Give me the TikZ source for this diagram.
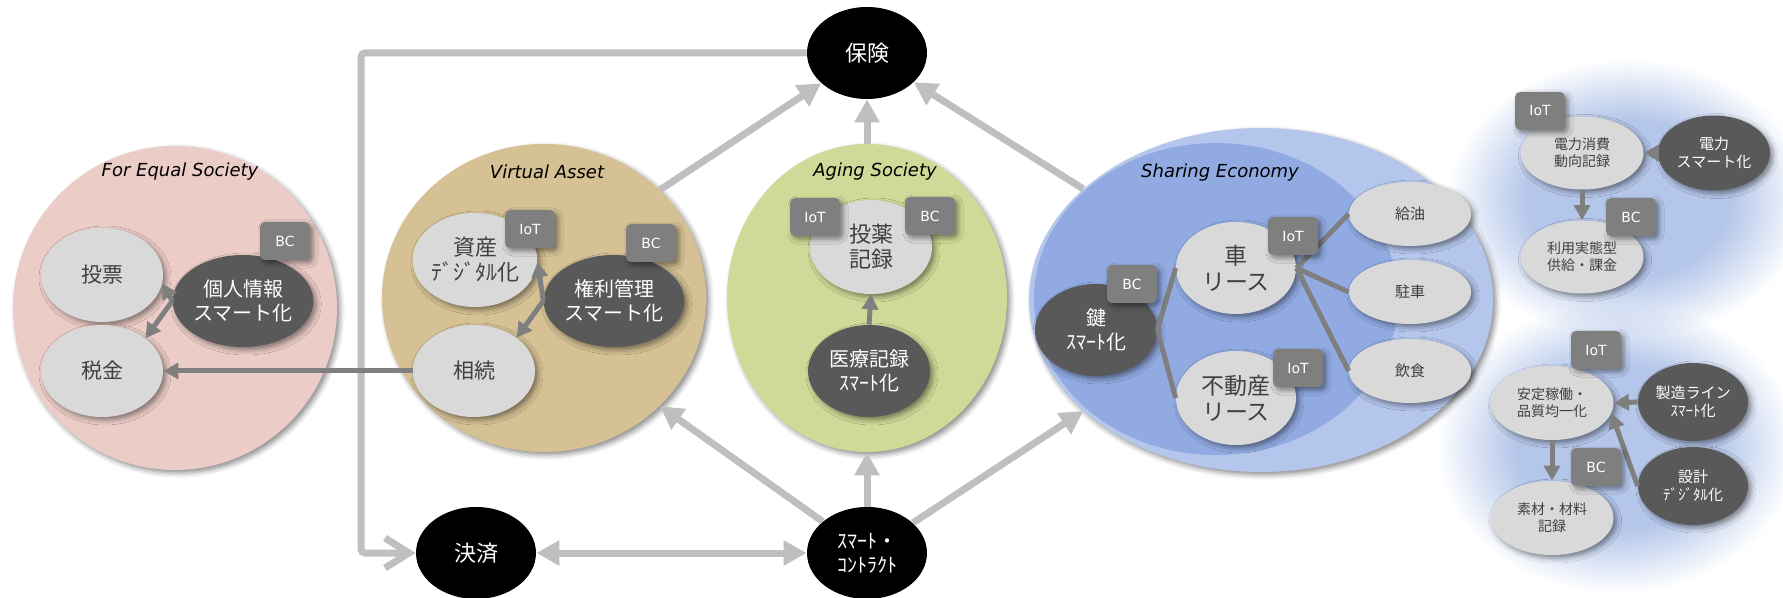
\documentclass[tikz,border=0pt]{standalone}
\usepackage{fontspec}
\newfontfamily\jp{Noto Sans CJK JP}
\newfontfamily\en{DejaVu Sans}
\usetikzlibrary{shapes.geometric,arrows.meta,fadings,shadows.blur}
\definecolor{pinkc}{HTML}{ECCCC7}
\definecolor{tanc}{HTML}{D5C194}
\definecolor{greenc}{HTML}{D0DA98}
\definecolor{blueo}{HTML}{B4C6EC}
\definecolor{bluei}{HTML}{91AAE2}
\definecolor{blobc}{HTML}{B4C6EA}
\definecolor{ltg}{HTML}{D9D9D9}
\definecolor{dkg}{HTML}{595959}
\definecolor{tgg}{HTML}{7F7F7F}
\definecolor{txg}{HTML}{404040}
\definecolor{glc}{HTML}{BFBFBF}
\definecolor{dlc}{HTML}{7F7F7F}
\pgfdeclareradialshading{blobshade}{\pgfpointorigin}{color(0bp)=(white); color(14bp)=(white); color(25bp)=(black); color(50bp)=(black)}
\pgfdeclarefading{blobfade}{\pgfuseshading{blobshade}}
\tikzset{
  shd/.style={blur shadow={shadow xshift=1.5pt, shadow yshift=-1.5pt, shadow blur radius=2.5pt, shadow opacity=45}},
  grp/.style={ellipse, inner sep=0, shd},
  lt/.style={ellipse, fill=ltg, text=txg, inner sep=0, minimum width=61pt, minimum height=46pt, align=center, shd, font=\jp\fontsize{10.5}{12.5}\selectfont},
  dk/.style={lt, fill=dkg, text=white},
  tagbox/.style={rectangle, rounded corners=2.5pt, fill=tgg, text=white, minimum width=25pt, minimum height=19pt, inner sep=0, font=\en\fontsize{7}{8}\selectfont, shd},
  hub/.style={ellipse, fill=black, text=white, minimum width=60pt, minimum height=46pt, inner sep=0, align=center, font=\jp\fontsize{11}{12}\selectfont},
  ttl/.style={font=\en\itshape\fontsize{9}{10}\selectfont, text=black},
  gline/.style={draw=glc, line width=3.5pt},
  dline/.style={draw=dlc, line width=2.5pt},
  gtip/.style={-{Triangle[length=11.5pt,width=12pt]}},
  dtip/.style={-{Triangle[length=7.5pt,width=8pt]}},
}
\begin{document}
\begin{tikzpicture}[x=0.5pt,y=-0.5pt]
\useasboundingbox (0,0) rectangle (1783,598);
% fuzzy blobs
\fill[blobc, path fading=blobfade] (1628,199) ellipse [x radius=90pt, y radius=70pt];
\fill[blobc, path fading=blobfade] (1617,447) ellipse [x radius=90pt, y radius=73pt];
% groups
\node[grp, fill=pinkc, minimum width=162pt, minimum height=162pt] (fes) at (175,308) {};
\node[grp, fill=tanc, minimum width=162pt, minimum height=154pt] (va) at (544,298) {};
\node[grp, fill=greenc, minimum width=140pt, minimum height=154pt] (ag) at (867,298) {};
\node[grp, fill=blueo, minimum width=232pt, minimum height=172pt] (se) at (1261,300) {};
\node[ellipse, inner sep=0, fill=bluei, minimum width=182pt, minimum height=156pt] (sei) at (1216,299) {};
\node[ttl] (tfes) at (180,172) {For Equal Society};
\node[ttl] (tva) at (547,172) {Virtual Asset};
\node[ttl] (tag) at (875,172) {Aging Society};
\node[ttl] (tse) at (1220,173) {Sharing Economy};
% hubs
\node[hub] (hoken) at (867,53) {保険};
\node[hub] (kessai) at (476,553) {決済};
\node[hub, font=\jp\fontsize{10}{12}\selectfont] (smart) at (867,553) {ｽﾏｰﾄ・\\ｺﾝﾄﾗｸﾄ};
% gray connectors
\coordinate (lx) at (361,300);
\draw[gline, rounded corners=2pt, -{Straight Barb[length=12pt,width=15pt]}] (hoken.west) -| (lx) |- (kessai.west);
\draw[gline, gtip] (va.43) -- (hoken);
\draw[gline, gtip] (ag.north) -- (hoken.south);
\draw[gline, gtip] (se.148) -- (hoken);
\draw[gline, gtip] (smart) -- (va.-43);
\draw[gline, gtip] (smart.north) -- (ag.south);
\draw[gline, gtip] (smart) -- (se.-148);
\draw[gline, {Triangle[length=11.5pt,width=12pt]}-{Triangle[length=11.5pt,width=12pt]}] (kessai.east) -- (smart.west);
% For Equal Society
\node[lt, minimum height=47pt] (tohyo) at (102,275) {投票};
\node[lt] (zeikin) at (102,371) {税金};
\node[dk, font=\jp\fontsize{10}{12}\selectfont] (kojin) at (243,301) {個人情報\\スマート化};
% Virtual Asset
\node[lt, minimum width=60pt, minimum height=47pt, font=\jp\fontsize{11}{12.5}\selectfont] (shisan) at (475,260) {資産\\ﾃﾞｼﾞﾀﾙ化};
\node[dk, font=\jp\fontsize{10}{12}\selectfont] (kenri) at (614,301) {権利管理\\スマート化};
\node[lt] (souzoku) at (474,371) {相続};
% Aging Society
\node[lt, minimum height=47pt, font=\jp\fontsize{11}{12.5}\selectfont] (touyaku) at (871,247) {投薬\\記録};
\node[dk, font=\jp\fontsize{10}{12}\selectfont] (iryo) at (869,371) {医療記録\\ｽﾏｰﾄ化};
% Sharing Economy
\node[dk, font=\jp\fontsize{10}{12}\selectfont] (kagi) at (1096,330) {鍵\\ｽﾏｰﾄ化};
\node[lt, minimum width=60pt, font=\jp\fontsize{11.5}{13}\selectfont] (kuruma) at (1236,268) {車\\リース};
\node[lt, minimum width=60pt, minimum height=47pt, font=\jp\fontsize{11.5}{13}\selectfont] (fudousan) at (1236,398) {不動産\\リース};
\node[lt, minimum height=32pt, font=\jp\fontsize{7.5}{9}\selectfont] (kyuyu) at (1410,214) {給油};
\node[lt, minimum height=32pt, font=\jp\fontsize{7.5}{9}\selectfont] (chusha) at (1410,292) {駐車};
\node[lt, minimum height=32pt, font=\jp\fontsize{7.5}{9}\selectfont] (inshoku) at (1410,371) {飲食};
% energy
\node[lt, minimum width=61.5pt, minimum height=36.5pt, font=\jp\fontsize{7}{8.5}\selectfont] (shohi) at (1582,153) {電力消費\\動向記録};
\node[dk, minimum width=56pt, minimum height=37.5pt, font=\jp\fontsize{7.5}{9}\selectfont] (denryoku) at (1714,153) {電力\\スマート化};
\node[lt, minimum width=61.5pt, minimum height=36.5pt, font=\jp\fontsize{7}{8.5}\selectfont] (riyou) at (1582,257) {利用実態型\\供給・課金};
% manufacturing
\node[lt, minimum width=61.5pt, minimum height=37pt, font=\jp\fontsize{7}{8.5}\selectfont] (antei) at (1552,403) {安定稼働・\\品質均一化};
\node[dk, minimum width=55pt, minimum height=39pt, font=\jp\fontsize{7.5}{9}\selectfont] (seizo) at (1693,402) {製造ライン\\ｽﾏｰﾄ化};
\node[dk, minimum width=55pt, minimum height=39pt, font=\jp\fontsize{7.5}{9}\selectfont] (sekkei) at (1693,486) {設計\\ﾃﾞｼﾞﾀﾙ化};
\node[lt, minimum width=61.5pt, minimum height=37pt, font=\jp\fontsize{7}{8.5}\selectfont] (sozai) at (1552,518) {素材・材料\\記録};
% inner connectors
\draw[dline, dtip] (kojin.west) -- (tohyo.-8);
\draw[dline, dtip] (kojin.west) -- (zeikin.37);
\draw[dline, dtip] (kenri.west) -- (shisan.-2);
\draw[dline, dtip] (kenri.west) -- (souzoku.38);
\draw[dline, dtip] (souzoku.west) -- (zeikin.east);
\draw[dline, dtip] (iryo.north) -- (touyaku.south);
\draw[dline] (kagi.east) -- (kuruma.west);
\draw[dline] (kagi.east) -- (fudousan.west);
\draw[dline] (kuruma.east) -- (kyuyu.west);
\draw[dline] (kuruma.east) -- (chusha.west);
\draw[dline] (kuruma.east) -- (inshoku.west);
\draw[dline, dtip] (denryoku.west) -- (shohi.east);
\draw[dline, dtip] (shohi.south) -- (riyou.north);
\draw[dline, dtip] (seizo.west) -- (antei.east);
\draw[dline, dtip] (sekkei.west) -- (antei.-10);
\draw[dline, dtip] (antei.south) -- (sozai.north);
% tags
\node[tagbox] (bc1) at (285,241) {BC};
\node[tagbox] (iot1) at (530,229) {IoT};
\node[tagbox] (bc2) at (651,243) {BC};
\node[tagbox] (iot2) at (815,217) {IoT};
\node[tagbox] (bc3) at (930,216) {BC};
\node[tagbox] (bc4) at (1132,284) {BC};
\node[tagbox] (iot3) at (1293,236) {IoT};
\node[tagbox] (iot4) at (1298,368) {IoT};
\node[tagbox] (iot5) at (1540,111) {IoT};
\node[tagbox] (bc5) at (1631,217) {BC};
\node[tagbox] (iot6) at (1596,350) {IoT};
\node[tagbox] (bc6) at (1596,467) {BC};
\end{tikzpicture}
\end{document}
